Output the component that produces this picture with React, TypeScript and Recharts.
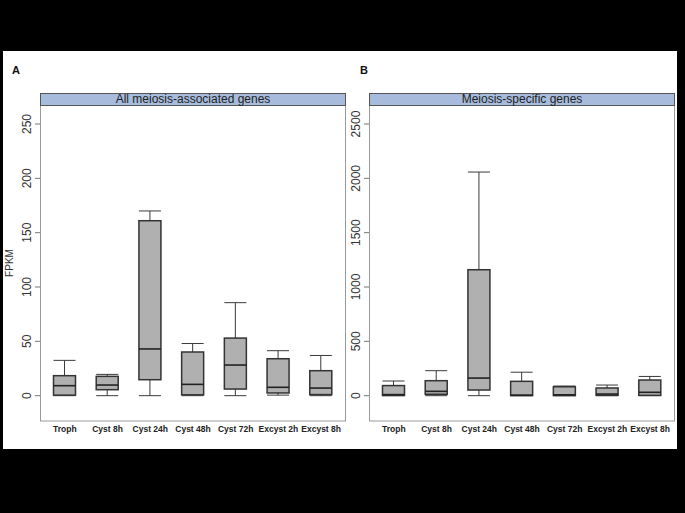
import React from "react";
import { ComposedChart, Bar, XAxis, YAxis } from "recharts";

// stages on the x axis (same for both panels)
const categories = ["Troph", "Cyst 8h", "Cyst 24h", "Cyst 48h", "Cyst 72h", "Excyst 2h", "Excyst 8h"];

// panel A: all meiosis-associated genes (FPKM)
const minA = [0, 0, 0, 0, 0, 0.5, 0];
const q1A = [0.5, 5.5, 14.7, 0.8, 6.1, 2.5, 1];
const medA = [9.2, 9.8, 43, 10.4, 28.2, 7.7, 7];
const q3A = [18.4, 17.8, 161, 40.2, 53, 34, 23];
const maxA = [32.5, 19.6, 170, 48, 85.6, 41.4, 37];
const ticksA = [0, 50, 100, 150, 200, 250];

// panel B: meiosis-specific genes (FPKM)
const minB = [0, 0, 0, 0, 0, 0, 0];
const q1B = [2, 13, 52, 1, 1, 3, 3];
const medB = [10, 40, 162, 5, 8, 15, 31];
const q3B = [93, 138, 1159, 132, 82, 71, 144];
const maxB = [135, 230, 2058, 216, 89, 98, 177];
const ticksB = [0, 500, 1000, 1500, 2000, 2500];

const FONT = '"Liberation Sans", Arial, Helvetica, sans-serif';

function buildRows(mins: number[], q1s: number[], meds: number[], q3s: number[], maxs: number[]) {
  return categories.map((name, i) => ({
    name,
    min: mins[i],
    q1: q1s[i],
    med: meds[i],
    q3: q3s[i],
    max: maxs[i],
    range: [mins[i], maxs[i]],
  }));
}

const dataA = buildRows(minA, q1A, medA, q3A, maxA);
const dataB = buildRows(minB, q1B, medB, q3B, maxB);

// whole box + whiskers, drawn from the bar that spans [min, max]
function BoxShape(props: any) {
  const { x, y, width, height, payload } = props;
  if (!payload) return null;
  const top = Math.min(y, y + height);
  const bot = Math.max(y, y + height);
  const span = payload.max - payload.min;
  const k = span > 0 ? (bot - top) / span : 0;
  const py = (v: number) => bot - (v - payload.min) * k;
  const cx = x + width / 2;
  const x1 = x + width;
  return (
    <g>
      <line x1={cx} x2={cx} y1={py(payload.max)} y2={py(payload.min)} stroke="#3a3a3a" strokeWidth={1} />
      <line x1={x} x2={x1} y1={py(payload.max)} y2={py(payload.max)} stroke="#3a3a3a" strokeWidth={1} />
      <line x1={x} x2={x1} y1={py(payload.min)} y2={py(payload.min)} stroke="#3a3a3a" strokeWidth={1} />
      <rect
        x={x}
        y={py(payload.q3)}
        width={width}
        height={py(payload.q1) - py(payload.q3)}
        fill="#b0b0b0"
        stroke="#333"
        strokeWidth={1.5}
      />
      <line x1={x} x2={x1} y1={py(payload.med)} y2={py(payload.med)} stroke="#222" strokeWidth={1.6} />
    </g>
  );
}

function YTick(props: any) {
  const { x, y, payload } = props;
  const tx = x - 1.5;
  return (
    <text
      x={tx}
      y={y}
      transform={`rotate(-90, ${tx}, ${y})`}
      textAnchor="middle"
      fontSize={12}
      fontFamily={FONT}
      fill="#333"
    >
      {payload.value}
    </text>
  );
}

function XTick(props: any) {
  const { x, y, payload } = props;
  return (
    <text x={x} y={y} textAnchor="middle" dominantBaseline="central" fontSize={8.5} fontWeight="bold" fontFamily={FONT} fill="#222">
      {payload.value}
    </text>
  );
}

function Panel({
  left,
  width,
  plotLeft,
  plotRight,
  data,
  domain,
  ticks,
  ylabel,
}: {
  left: number;
  width: number;
  plotLeft: number;
  plotRight: number;
  data: any[];
  domain: [number, number];
  ticks: number[];
  ylabel?: string;
}) {
  return (
    <div style={{ position: "absolute", left, top: 51 }}>
      <ComposedChart
        width={width}
        height={398}
        data={data}
        margin={{ top: 54, right: left + width - plotRight, bottom: 8, left: 0 }}
      >
        <XAxis
          dataKey="name"
          axisLine={false}
          tickLine={false}
          tickSize={6}
          height={20}
          interval={0}
          padding={{ left: 3.5, right: 3.5 }}
          tick={<XTick />}
        />
        <YAxis
          type="number"
          domain={domain}
          ticks={ticks}
          allowDataOverflow
          width={plotLeft - left}
          axisLine={false}
          tickSize={5}
          tickLine={{ stroke: "#777" }}
          tick={<YTick />}
          label={
            ylabel
              ? {
                  content: (p: any) => {
                    const vb = p.viewBox || { x: 0, y: 54, height: 316 };
                    const lx = vb.x + 12.5;
                    const ly = vb.y + vb.height / 2;
                    return (
                      <text
                        x={lx}
                        y={ly}
                        transform={`rotate(-90, ${lx}, ${ly})`}
                        textAnchor="middle"
                        fontSize={10}
                        fontFamily={FONT}
                        fill="#333"
                      >
                        {ylabel}
                      </text>
                    );
                  },
                }
              : undefined
          }
        />
        <Bar dataKey="range" barSize={22} shape={<BoxShape />} isAnimationActive={false} />
      </ComposedChart>
    </div>
  );
}

function Decorations() {
  const strip = (x0: number, x1: number, label: string) => (
    <g>
      <rect x={x0 + 0.5} y={93.5} width={x1 - x0 - 1} height={12} fill="#a7bcdc" stroke="#555" strokeWidth={1} />
      <text x={(x0 + x1) / 2} y={103} textAnchor="middle" fontSize={12} fontFamily={FONT} fill="#222">
        {label}
      </text>
    </g>
  );
  const frame = (x0: number, x1: number) => (
    <rect x={x0 + 0.5} y={105.5} width={x1 - x0 - 1} height={315.5} fill="none" stroke="#9a9a9a" strokeWidth={1} />
  );
  return (
    <svg width={685} height={513} style={{ position: "absolute", left: 0, top: 0, pointerEvents: "none" }}>
      {frame(40, 346)}
      {frame(369, 675)}
      {strip(40, 346, "All meiosis-associated genes")}
      {strip(369, 675, "Meiosis-specific genes")}
      <text x={12} y={74} fontSize={11} fontWeight="bold" fontFamily={FONT} fill="#111">
        A
      </text>
      <text x={360} y={74} fontSize={11} fontWeight="bold" fontFamily={FONT} fill="#111">
        B
      </text>
    </svg>
  );
}

export default function App() {
  return (
    <div style={{ position: "absolute", left: 0, top: 0, width: 685, height: 513, background: "#000", overflow: "hidden" }}>
      <div style={{ position: "absolute", left: 3, top: 51, width: 674, height: 398, background: "#fff" }} />
      <Panel left={0} width={360} plotLeft={40} plotRight={346} data={dataA} domain={[-23.3, 267.5]} ticks={ticksA} ylabel="FPKM" />
      <Panel left={340} width={345} plotLeft={369} plotRight={675} data={dataB} domain={[-233, 2675]} ticks={ticksB} />
      <Decorations />
    </div>
  );
}
